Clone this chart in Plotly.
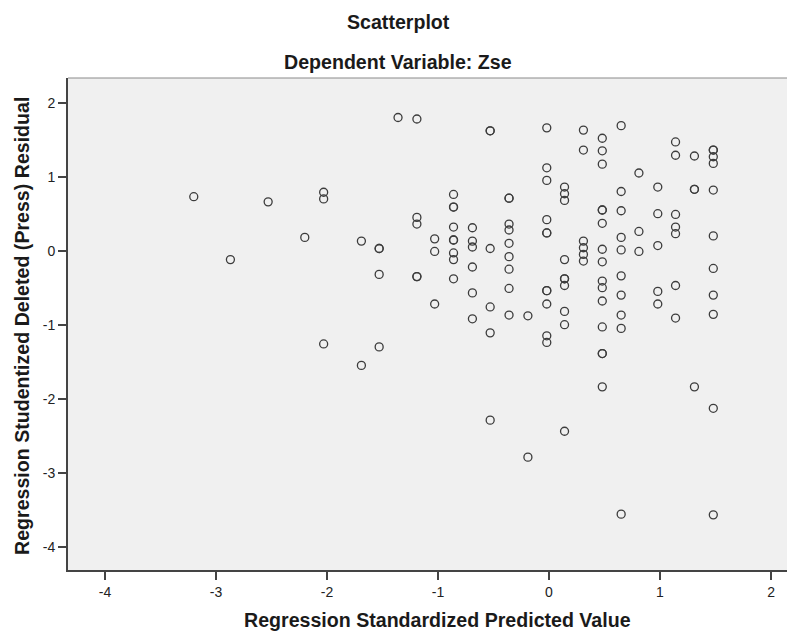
import plotly.graph_objects as go

# Column positions (Regression Standardized Predicted Value) and the residuals read at each
predicted = (
    [-3.20] + [-2.87] + [-2.53] + [-2.20]
    + [-2.03] * 3 + [-1.69] * 2 + [-1.53] * 4 + [-1.36]
    + [-1.19] * 5 + [-1.03] * 3 + [-0.86] * 9 + [-0.69] * 6
    + [-0.53] * 6 + [-0.36] * 9 + [-0.19] * 2 + [-0.02] * 11
    + [0.14] * 10 + [0.31] * 6 + [0.48] * 15 + [0.65] * 10
    + [0.81] * 3 + [0.98] * 5 + [1.14] * 7 + [1.31] * 4 + [1.48] * 11
)
residual = (
    [0.73] + [-0.12] + [0.66] + [0.18]
    + [0.79, 0.70, -1.26]
    + [0.13, -1.55]
    + [0.03, 0.03, -0.32, -1.30]
    + [1.80]
    + [1.78, 0.45, 0.36, -0.35, -0.35]
    + [0.16, -0.01, -0.72]
    + [0.76, 0.59, 0.59, 0.32, 0.145, 0.145, -0.03, -0.12, -0.38]
    + [0.31, 0.13, 0.05, -0.22, -0.57, -0.92]
    + [1.62, 1.62, 0.03, -0.76, -1.11, -2.29]
    + [0.71, 0.71, 0.36, 0.28, 0.10, -0.08, -0.25, -0.51, -0.87]
    + [-0.88, -2.79]
    + [1.66, 1.12, 0.95, 0.42, 0.24, 0.24, -0.54, -0.54, -0.72, -1.15, -1.24]
    + [0.86, 0.77, 0.68, -0.12, -0.38, -0.38, -0.47, -0.82, -1.00, -2.44]
    + [1.63, 1.36, 0.13, 0.04, -0.05, -0.14]
    + [1.52, 1.35, 1.17, 0.55, 0.55, 0.37, 0.02, -0.15, -0.41, -0.50, -0.68,
       -1.03, -1.39, -1.39, -1.84]
    + [1.69, 0.80, 0.54, 0.18, 0.01, -0.34, -0.60, -0.87, -1.05, -3.56]
    + [1.05, 0.26, -0.01]
    + [0.86, 0.50, 0.07, -0.55, -0.72]
    + [1.47, 1.29, 0.49, 0.32, 0.23, -0.47, -0.91]
    + [1.28, 0.83, 0.83, -1.84]
    + [1.36, 1.36, 1.27, 1.18, 0.82, 0.20, -0.24, -0.60, -0.86, -2.13, -3.57]
)

x_ticks = [-4, -3, -2, -1, 0, 1, 2]
y_ticks = [2, 1, 0, -1, -2, -3, -4]

title_main = "Scatterplot"
title_sub = "Dependent Variable: Zse"
x_title = "Regression Standardized Predicted Value"
y_title = "Regression Studentized Deleted (Press) Residual"

FONT = "Liberation Sans, Arial, sans-serif"
BIG = 19.6

# The page body has an 8px default margin, so the figure is sized to fit the window.
fig = go.Figure(
    go.Scatter(
        x=predicted,
        y=residual,
        mode="markers",
        marker=dict(symbol="circle-open", size=8, color="#3c3c3c",
                    line=dict(width=1.3, color="#3c3c3c")),
        hoverinfo="x+y",
    )
)

axis_common = dict(
    showgrid=False,
    zeroline=False,
    showline=True,
    linecolor="#444444",
    linewidth=2,
    ticks="outside",
    ticklen=8,
    tickwidth=1.5,
    tickcolor="#444444",
    tickfont=dict(size=14, family=FONT, color="#222222"),
)

fig.update_layout(
    width=787,
    height=625,
    margin=dict(l=60, r=0, t=70, b=63),
    paper_bgcolor="white",
    plot_bgcolor="#f0f0f0",
    showlegend=False,
    font=dict(family=FONT, color="#1a1a1a", size=14),
    xaxis=dict(range=[-4.333, 2.216], tickvals=x_ticks,
               ticktext=[str(v) for v in x_ticks], **axis_common),
    yaxis=dict(range=[-4.315, 2.334], tickvals=y_ticks,
               ticktext=[str(v) for v in y_ticks], **axis_common),
    shapes=[
        dict(type="line", xref="paper", yref="paper", x0=0, x1=1, y0=1, y1=1,
             line=dict(color="#8a8a8a", width=1)),
    ],
)


def px_to_paper(px):
    # px measured in the window; plot area spans 68..795
    return (px - 68) / 727.0


def py_to_paper(py):
    # py measured in the window; plot area spans 78..570
    return (570 - py) / 492.0


fig.layout.annotations = [
    dict(text="<b>%s</b>" % title_main, xref="paper", yref="paper",
         x=px_to_paper(398), y=py_to_paper(22), showarrow=False,
         font=dict(size=BIG, family=FONT, color="#1a1a1a"),
         xanchor="center", yanchor="middle"),
    dict(text="<b>%s</b>" % title_sub, xref="paper", yref="paper",
         x=px_to_paper(398), y=py_to_paper(62), showarrow=False,
         font=dict(size=BIG, family=FONT, color="#1a1a1a"),
         xanchor="center", yanchor="middle"),
    dict(text="<b>%s</b>" % x_title, xref="paper", yref="paper",
         x=px_to_paper(438), y=py_to_paper(620), showarrow=False,
         font=dict(size=BIG, family=FONT, color="#1a1a1a"),
         xanchor="center", yanchor="middle"),
    dict(text="<b>%s</b>" % y_title, xref="paper", yref="paper",
         x=px_to_paper(22), y=py_to_paper(326), showarrow=False, textangle=-90,
         font=dict(size=BIG, family=FONT, color="#1a1a1a"),
         xanchor="center", yanchor="middle"),
]

fig.write_html("out.html")
